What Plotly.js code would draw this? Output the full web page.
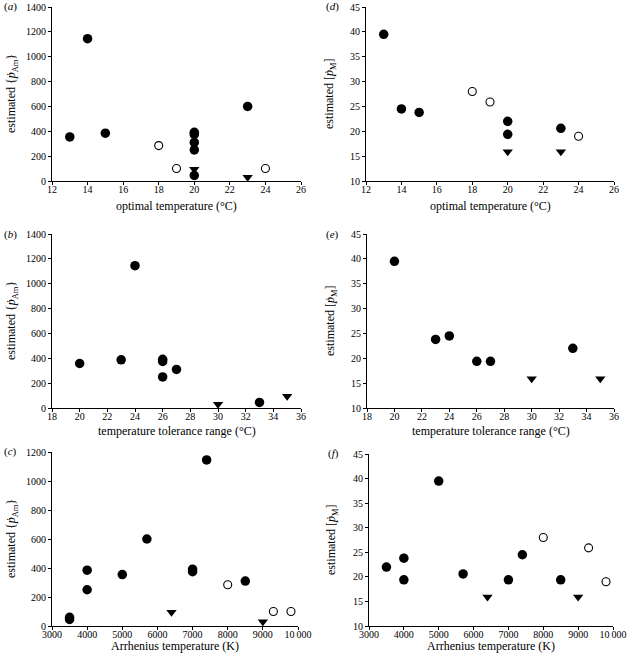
<!DOCTYPE html>
<html><head><meta charset="utf-8">
<script src="https://cdn.plot.ly/plotly-3.0.1.min.js"></script>
<style>body{margin:0;background:#fff}#chart{width:630px;height:656px}</style>
</head><body><div id="chart"></div>
<script>
// ---- data ----
// (a) optimal temperature vs {pAm}
const aFilledX = [13, 14, 15, 20, 20, 20, 20, 20, 23];
const aFilledY = [355, 1145, 385, 392, 375, 310, 250, 45, 600];
const aOpenX = [18, 19, 24];
const aOpenY = [285, 100, 100];
const aTriX = [20, 23];
const aTriY = [95, 30];
// (b) temperature tolerance range vs {pAm}
const bFilledX = [20, 23, 24, 26, 26, 26, 27, 33];
const bFilledY = [358, 388, 1145, 392, 375, 250, 310, 45];
const bTriX = [30, 35];
const bTriY = [30, 95];
// (c) Arrhenius temperature vs {pAm}
const cFilledX = [3500, 3500, 4000, 4000, 5000, 5700, 7000, 7000, 7400, 8500];
const cFilledY = [60, 45, 385, 250, 355, 600, 392, 375, 1145, 310];
const cOpenX = [8000, 9300, 9800];
const cOpenY = [285, 100, 100];
const cTriX = [6400, 9000];
const cTriY = [95, 30];
// (d) optimal temperature vs [pM]
const dFilledX = [13, 14, 15, 20, 20, 23];
const dFilledY = [39.5, 24.5, 23.8, 22, 19.4, 20.6];
const dOpenX = [18, 19, 24];
const dOpenY = [28, 25.9, 19];
const dTriX = [20, 23];
const dTriY = [15.9, 15.9];
// (e) temperature tolerance range vs [pM]
const eFilledX = [20, 23, 24, 26, 27, 33];
const eFilledY = [39.5, 23.8, 24.5, 19.4, 19.4, 22];
const eTriX = [30, 35];
const eTriY = [15.9, 15.9];
// (f) Arrhenius temperature vs [pM]
const fFilledX = [3500, 4000, 4000, 5000, 5700, 7000, 7400, 8500];
const fFilledY = [22, 23.8, 19.4, 39.5, 20.6, 19.4, 24.5, 19.4];
const fOpenX = [8000, 9300, 9800];
const fOpenY = [28, 25.9, 19];
const fTriX = [6400, 9000];
const fTriY = [15.9, 15.9];

const arrTickVals = [3000, 4000, 5000, 6000, 7000, 8000, 9000, 10000];
const arrTickText = ['3000', '4000', '5000', '6000', '7000', '8000', '9000', '10\u2009000'];

const panelLabels = ['a', 'b', 'c', 'd', 'e', 'f'];
const xTitles = ['optimal temperature (°C)', 'temperature tolerance range (°C)', 'Arrhenius temperature (K)'];
const yTitleAm = 'estimated {<i>p\u0307</i><sub>Am</sub>}';
const yTitleM = 'estimated [<i>p\u0307</i><sub>M</sub>]';

// ---- helpers ----
const W = 630, H = 656;
const FONT = 'Liberation Serif, Times New Roman, serif';
function filled(x, y, ax) {
  return {x, y, xaxis: 'x' + ax, yaxis: 'y' + ax, type: 'scatter', mode: 'markers', cliponaxis: false,
    marker: {symbol: 'circle', size: 9.5, color: '#000'}, showlegend: false};
}
function open(x, y, ax) {
  return {x, y, xaxis: 'x' + ax, yaxis: 'y' + ax, type: 'scatter', mode: 'markers', cliponaxis: false,
    marker: {symbol: 'circle-open', size: 8, color: '#000', line: {width: 1.1, color: '#000'}}, showlegend: false};
}
function tri(x, y, ax) {
  return {x, y, xaxis: 'x' + ax, yaxis: 'y' + ax, type: 'scatter', mode: 'markers', cliponaxis: false,
    marker: {symbol: 'triangle-down', size: 9, color: '#000'}, showlegend: false};
}

const traces = [
  filled(aFilledX, aFilledY, ''), open(aOpenX, aOpenY, ''), tri(aTriX, aTriY, ''),
  filled(dFilledX, dFilledY, '2'), open(dOpenX, dOpenY, '2'), tri(dTriX, dTriY, '2'),
  filled(bFilledX, bFilledY, '3'), tri(bTriX, bTriY, '3'),
  filled(eFilledX, eFilledY, '4'), tri(eTriX, eTriY, '4'),
  filled(cFilledX, cFilledY, '5'), open(cOpenX, cOpenY, '5'), tri(cTriX, cTriY, '5'),
  filled(fFilledX, fFilledY, '6'), open(fOpenX, fOpenY, '6'), tri(fTriX, fTriY, '6'),
];

// pixel boxes [x0, x1, y0(top), y1(bottom)], y-title x, x-title y, label x
const boxes = {
  '':  [52, 301, 7, 181, 12, 206, 2],
  '2': [366, 614, 7, 181, 330, 206, 324],
  '3': [52, 301, 234, 408, 12, 431, 2],
  '4': [367, 614, 234, 408, 331, 431, 324],
  '5': [52, 298, 452, 626, 12, 646, 2],
  '6': [369, 613, 454, 626, 332, 646, 326],
};
const axBase = {
  showgrid: false, zeroline: false, showline: true, linecolor: '#000', linewidth: 1,
  ticks: 'outside', ticklen: 3, tickwidth: 1, tickcolor: '#000',
  tickfont: {family: FONT, size: 10, color: '#000'}, fixedrange: true
};
const layout = {
  width: W, height: H, margin: {l: 0, r: 0, t: 0, b: 0},
  paper_bgcolor: '#fff', plot_bgcolor: '#fff', showlegend: false,
  font: {family: FONT, size: 10, color: '#000'}, annotations: []
};
const spec = {
  '':  {xr: [12, 26], dx: 2, yr: [0, 1400], dy: 200, xt: xTitles[0], yt: yTitleAm, lab: panelLabels[0]},
  '2': {xr: [12, 26], dx: 2, yr: [10, 45], dy: 5, xt: xTitles[0], yt: yTitleM, lab: panelLabels[3]},
  '3': {xr: [18, 36], dx: 2, yr: [0, 1400], dy: 200, xt: xTitles[1], yt: yTitleAm, lab: panelLabels[1]},
  '4': {xr: [18, 36], dx: 2, yr: [10, 45], dy: 5, xt: xTitles[1], yt: yTitleM, lab: panelLabels[4]},
  '5': {xr: [3000, 10000], arr: true, yr: [0, 1200], dy: 200, xt: xTitles[2], yt: yTitleAm, lab: panelLabels[2]},
  '6': {xr: [3000, 10000], arr: true, yr: [10, 45], dy: 5, xt: xTitles[2], yt: yTitleM, lab: panelLabels[5]},
};
const titleFont = {family: FONT, size: 12, color: '#000'};
for (const k of Object.keys(spec)) {
  const s = spec[k], b = boxes[k];
  const xa = Object.assign({}, axBase, {
    domain: [b[0] / W, b[1] / W], range: s.xr, anchor: 'y' + k, ticklabelstandoff: -4
  });
  if (s.arr) { xa.tickmode = 'array'; xa.tickvals = arrTickVals; xa.ticktext = arrTickText; }
  else { xa.dtick = s.dx; xa.tick0 = s.xr[0]; }
  const ya = Object.assign({}, axBase, {
    domain: [1 - b[3] / H, 1 - b[2] / H], range: s.yr, anchor: 'x' + k, dtick: s.dy, tick0: s.yr[0]
  });
  layout['xaxis' + k] = xa;
  layout['yaxis' + k] = ya;
  // x title
  layout.annotations.push({
    xref: 'paper', yref: 'paper', x: (b[0] + b[1]) / 2 / W, y: 1 - b[5] / H, xanchor: 'center', yanchor: 'middle',
    text: s.xt, showarrow: false, font: titleFont
  });
  // y title
  layout.annotations.push({
    xref: 'paper', yref: 'paper', x: b[4] / W, y: 1 - (b[2] + b[3]) / 2 / H, xanchor: 'center', yanchor: 'middle',
    text: s.yt, textangle: -90, showarrow: false, font: titleFont
  });
  // panel label
  layout.annotations.push({
    xref: 'paper', yref: 'paper', x: b[6] / W, y: 1 - b[2] / H, xanchor: 'left', yanchor: 'middle',
    text: '(<i>' + s.lab + '</i>)', showarrow: false, font: {family: FONT, size: 11, color: '#000'}
  });
}
Plotly.newPlot('chart', traces, layout, {displayModeBar: false, staticPlot: true});
</script>
</body></html>
